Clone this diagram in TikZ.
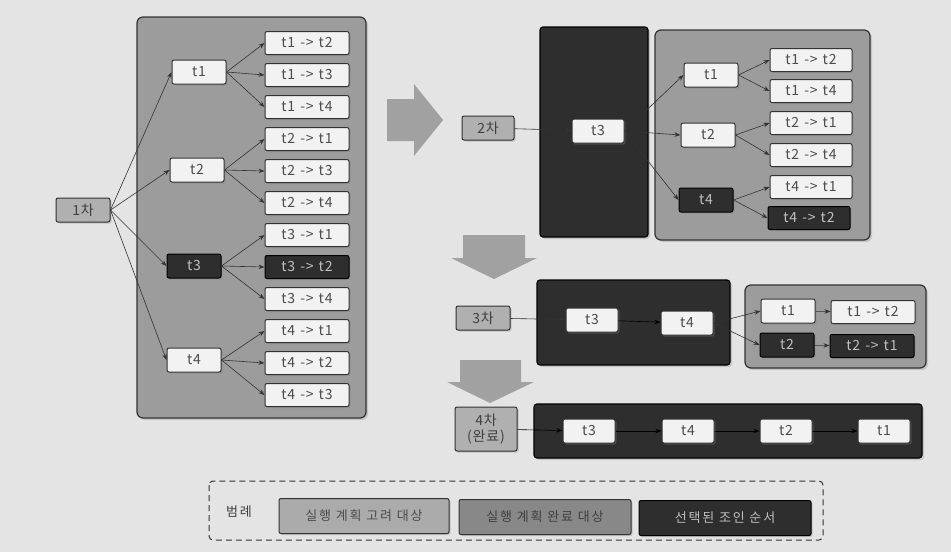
\documentclass[tikz,border=0pt]{standalone}
\usepackage{fontspec}
\setmainfont{Noto Sans CJK KR}[LetterSpace=6]
\usepackage{tikz}
\usetikzlibrary{arrows.meta}
\usetikzlibrary{shadows}
\usetikzlibrary{positioning}

\definecolor{paper}{HTML}{E4E4E4}
\definecolor{plan}{HTML}{9C9C9C}
\definecolor{stepgray}{HTML}{B0B0B0}
\definecolor{done}{HTML}{888888}
\definecolor{chosen}{HTML}{2E2E2E}
\definecolor{edge}{HTML}{333333}

\newcommand{\joinpair}[2]{t#1\hspace{5pt}->\hspace{5pt}t#2}

\begin{document}
\begin{tikzpicture}[x=1pt,y=-1pt,
  every node/.style={font=\fontsize{14}{16}\selectfont},
  tbox/.style={draw=edge,line width=1pt,fill=white!95!black,text=black!70,rounded corners=2pt,minimum width=54pt,minimum height=24pt,inner sep=1pt,drop shadow={opacity=0.35,shadow xshift=1.5pt,shadow yshift=-1.5pt}},
  selbox/.style={tbox,draw=black,fill=chosen,text=white!75!black},
  stepbox/.style={tbox,fill=stepgray,text=black!75},
  pairbox/.style={minimum width=84pt,minimum height=23pt},
  legendbox/.style={minimum height=35pt,font=\fontsize{13}{15}\selectfont\addfontfeatures{LetterSpace=14}},
  panel/.style={draw=edge,line width=1.2pt,fill=plan,rounded corners=6pt,drop shadow={opacity=0.3,shadow xshift=2pt,shadow yshift=-2pt}},
  darkpanel/.style={panel,draw=black,fill=chosen,rounded corners=3pt},
  conn/.style={-{Stealth[length=6pt,width=4.5pt]},draw=black!80,line width=0.6pt},
  bigarrow/.style={fill=plan!95!white}
]
\fill[paper] (0,0) rectangle (951,552);
\useasboundingbox (0,0) rectangle (951,552);

\draw[panel] (137,17) rectangle (366,418);
\node[stepbox] (s1) at (83,210) {1차};
\node[tbox] (a1) at (199,72) {t1};
\node[tbox] (a2) at (197,170) {t2};
\node[selbox] (a3) at (194,266) {t3};
\node[tbox] (a4) at (194,360) {t4};
\foreach \i/\j/\y in {1/2/43,1/3/75,1/4/107,2/1/139,2/3/171,2/4/203,3/1/235,3/4/299,4/1/331,4/2/363,4/3/395}
  \node[tbox,pairbox] (p\i\j) at (307,\y) {\joinpair{\i}{\j}};
\node[selbox,pairbox] (p32) at (307,267) {\joinpair{3}{2}};
\foreach \i in {1,...,4}
  \draw[conn] (s1.east) -- (a\i.west);
\foreach \i/\j in {1/2,1/3,1/4,2/1,2/3,2/4,3/1,3/2,3/4,4/1,4/2,4/3}
  \draw[conn] (a\i.east) -- (p\i\j.west);

\fill[bigarrow] (387,99) -- (414,99) -- (414,84) -- (443,120) -- (414,156) -- (414,141) -- (387,141) -- cycle;

\node[stepbox,minimum width=52pt] (s2) at (488,128) {2차};
\draw[darkpanel] (540,27) rectangle (648,237);
\node[tbox,minimum width=52pt] (b3) at (598,131) {t3};
\draw[panel] (655,30) rectangle (870,240);
\node[tbox] (c1) at (711,75) {t1};
\node[tbox] (c2) at (708,135) {t2};
\node[selbox] (c4) at (706,200) {t4};
\foreach \i/\j/\y in {1/2/60,1/4/91,2/1/123,2/4/155,4/1/187}
  \node[tbox,pairbox,minimum width=82pt] (q\i\j) at (811,\y) {\joinpair{\i}{\j}};
\node[selbox,pairbox,minimum width=82pt] (q42) at (809,218) {\joinpair{4}{2}};
\draw[conn] (s2) -- (b3);
\foreach \i in {1,2,4}
  \draw[conn] (b3.east) -- (c\i.west);
\foreach \i/\j in {1/2,1/4,2/1,2/4,4/1,4/2}
  \draw[conn] (c\i.east) -- (q\i\j.west);

\fill[bigarrow] (463,235) -- (525,235) -- (525,258) -- (537,258) -- (494,279) -- (451,258) -- (463,258) -- cycle;

\node[stepbox,minimum width=54pt] (s3) at (483,318) {3차};
\draw[darkpanel] (537,280) rectangle (730,365);
\node[tbox,minimum width=52pt] (d3) at (592,320) {t3};
\node[tbox,minimum width=52pt] (d4) at (687,323) {t4};
\draw[panel] (745,285) rectangle (926,368);
\node[tbox] (e1) at (788,311) {t1};
\node[selbox] (e2) at (787,345) {t2};
\node[tbox,pairbox] (f12) at (873,312) {\joinpair{1}{2}};
\node[selbox,pairbox] (f21) at (872,346) {\joinpair{2}{1}};
\draw[conn] (s3) -- (d3);
\draw[conn,draw=black] (d3) -- (d4);
\draw[conn] (d4.east) -- (e1.west);
\draw[conn] (d4.east) -- (e2.west);
\draw[conn] (e1) -- (f12);
\draw[conn] (e2) -- (f21);

\fill[bigarrow] (460,360) -- (521,360) -- (521,382) -- (534,382) -- (490,403) -- (447,382) -- (460,382) -- cycle;

\node[stepbox,minimum width=62pt,minimum height=44pt,align=center] (s4) at (486,429) {4차\\(완료)};
\draw[darkpanel] (534,404) rectangle (922,458);
\node[tbox,minimum width=52pt] (g3) at (589,431) {t3};
\node[tbox,minimum width=52pt] (g4) at (688,431) {t4};
\node[tbox,minimum width=52pt] (g2) at (786,431) {t2};
\node[tbox,minimum width=52pt] (g1) at (884,431) {t1};
\draw[conn,draw=black] (s4) -- (g3);
\draw[conn,draw=black] (g3) -- (g4);
\draw[conn,draw=black] (g4) -- (g2);
\draw[conn,draw=black] (g2) -- (g1);

\draw[edge,line width=1pt,dashed,dash pattern=on 6pt off 4pt,rounded corners=4pt] (209,481) rectangle (823,540);
\node[text=black!75,font=\fontsize{13}{15}\selectfont\addfontfeatures{LetterSpace=14}] (lg) at (239,512) {범례};
\node[stepbox,legendbox,fill=plan!85!white,minimum width=170pt,text=black!70] (k1) at (364,516) {실행 계획 고려 대상};
\node[stepbox,legendbox,fill=done,minimum width=172pt,text=black!75] (k2) at (545,517) {실행 계획 완료 대상};
\node[selbox,legendbox,minimum width=172pt] (k3) at (725,518) {선택된 조인 순서};
\end{tikzpicture}
\end{document}
